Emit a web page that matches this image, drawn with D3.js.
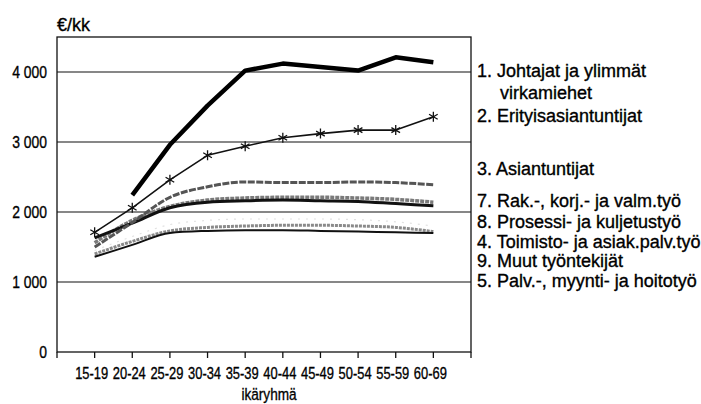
<!DOCTYPE html>
<html>
<head>
<meta charset="utf-8">
<script src="https://cdn.jsdelivr.net/npm/d3@7"></script>
<style>
  body { margin: 0; background: #fff; }
  svg { display: block; font-family: "Liberation Sans", Arial, sans-serif; }
</style>
</head>
<body>
<div id="chart"></div>
<script>
// age groups on the x axis
const ages = ["15-19", "20-24", "25-29", "30-34", "35-39", "40-44", "45-49", "50-54", "55-59", "60-69"];
const yTicks = [0, 1000, 2000, 3000, 4000];

// monthly earnings, €/kk
const johtajat = [null, 2240, 2960, 3520, 4020, 4120, 4070, 4020, 4210, 4140];
const erityis = [1710, 2060, 2460, 2810, 2940, 3060, 3120, 3170, 3170, 3360];
const asiantuntijat = [1500, 1850, 2210, 2360, 2430, 2420, 2420, 2430, 2420, 2390];
const rak = [1560, 1880, 2080, 2170, 2200, 2210, 2210, 2200, 2180, 2140];
const prosessi = [1630, 1840, 2060, 2140, 2160, 2170, 2160, 2150, 2120, 2090];
const toimisto = [1450, 1650, 1820, 1880, 1900, 1900, 1900, 1890, 1860, 1800];
const muut = [1400, 1580, 1730, 1780, 1800, 1810, 1810, 1800, 1780, 1720];
const palv = [1360, 1530, 1700, 1730, 1740, 1740, 1730, 1720, 1710, 1700];

const legendLabels = [
    ["1. Johtajat ja ylimmät", "virkamiehet"],
    ["2. Erityisasiantuntijat"],
    ["3. Asiantuntijat"],
    ["7. Rak.-, korj.- ja valm.työ"],
    ["8. Prosessi- ja kuljetustyö"],
    ["4. Toimisto- ja asiak.palv.työ"],
    ["9. Muut työntekijät"],
    ["5. Palv.-, myynti- ja hoitotyö"]
];

const width = 701, height = 404;
const plotL = 57, plotR = 471, plotT = 37, plotB = 352;

const svg = d3.select("#chart")
    .append("svg")
    .attr("width", width)
    .attr("height", height);

const x = d3.scalePoint().domain(ages).range([plotL, plotR]).padding(1);
const y = d3.scaleLinear().domain([0, 4500]).range([plotB, plotT]);

// the original font is a condensed one, so squeeze text horizontally
function label(parent, px, py, str, size, sx, anchor) {
    return parent.append("text")
        .attr("transform", `translate(${px},${py}) scale(${sx},1)`)
        .attr("font-size", size)
        .attr("text-anchor", anchor || "start")
        .attr("fill", "#000")
        .attr("stroke", "#000")
        .attr("stroke-width", 0.35)
        .text(str);
}

// gridlines + frame
svg.append("g")
    .selectAll("line")
    .data(yTicks.filter(d => d > 0))
    .join("line")
    .attr("x1", plotL).attr("x2", plotR)
    .attr("y1", d => y(d)).attr("y2", d => y(d))
    .attr("stroke", "#111")
    .attr("stroke-width", 1.2);

svg.append("rect")
    .attr("x", plotL).attr("y", plotT)
    .attr("width", plotR - plotL).attr("height", plotB - plotT)
    .attr("fill", "none")
    .attr("stroke", "#111")
    .attr("stroke-width", 1.3);

// y labels
const yLab = svg.append("g");
for (let t of yTicks) {
    label(yLab, 47, y(t) + 6, t === 0 ? "0" : d3.format(",")(t).replace(",", " "), 17, 0.82, "end");
}

// x axis ticks and labels
const xAxis = svg.append("g").attr("transform", `translate(0,${plotB})`);
xAxis.selectAll("line")
    .data([plotL, ...ages.map(a => x(a)), plotR])
    .join("line")
    .attr("x1", d => d).attr("x2", d => d)
    .attr("y1", 0).attr("y2", 6)
    .attr("stroke", "#111")
    .attr("stroke-width", 1.3);
for (let a of ages) {
    label(xAxis, x(a) - 3, 27, a, 17, 0.76, "middle");
}

label(svg, 269, 400, "ikäryhmä", 17, 0.8, "middle");
label(svg, 57, 31, "€/kk", 18, 1, "start");

// series, drawn from the back to the front
const series = [
    { values: toimisto, stroke: "#e2e2e2", width: 1.2, dash: "2,6", curve: d3.curveMonotoneX },
    { values: muut, stroke: "#8a8a8a", width: 3, dash: "3,1", curve: d3.curveMonotoneX },
    { values: palv, stroke: "#111", width: 2, dash: null, curve: d3.curveMonotoneX },
    { values: rak, stroke: "#7a7a7a", width: 3.5, dash: "4,1", curve: d3.curveMonotoneX },
    { values: prosessi, stroke: "#111", width: 3, dash: null, curve: d3.curveMonotoneX },
    { values: asiantuntijat, stroke: "#555", width: 3, dash: "7,1.5", curve: d3.curveMonotoneX },
    { values: erityis, stroke: "#111", width: 1.6, dash: null, curve: d3.curveLinear, marker: true },
    { values: johtajat, stroke: "#000", width: 4.5, dash: null, curve: d3.curveLinear }
];

for (let s of series) {
    const line = d3.line()
        .defined(d => d != null)
        .x((d, i) => x(ages[i]))
        .y(d => y(d))
        .curve(s.curve);

    svg.append("path")
        .datum(s.values)
        .attr("fill", "none")
        .attr("stroke", s.stroke)
        .attr("stroke-width", s.width)
        .attr("stroke-dasharray", s.dash)
        .attr("stroke-linejoin", "round")
        .attr("d", line);

    if (s.marker) {
        svg.append("g")
            .selectAll("path")
            .data(s.values)
            .join("path")
            .attr("transform", (d, i) => `translate(${x(ages[i])},${y(d)})`)
            .attr("d", d3.symbol(d3.symbolAsterisk, 70))
            .attr("fill", "none")
            .attr("stroke", "#111")
            .attr("stroke-width", 1.3);
    }
}

// legend text on the right
const legendY = [77, 122, 175, 207, 228, 248, 267, 287];
const legend = svg.append("g");
legendLabels.forEach((lines, i) => {
    label(legend, 477, legendY[i], lines[0], 18, 1, "start");
    if (lines[1]) {
        label(legend, 500, legendY[i] + 22, lines[1], 18, 1, "start");
    }
});
</script>
</body>
</html>
